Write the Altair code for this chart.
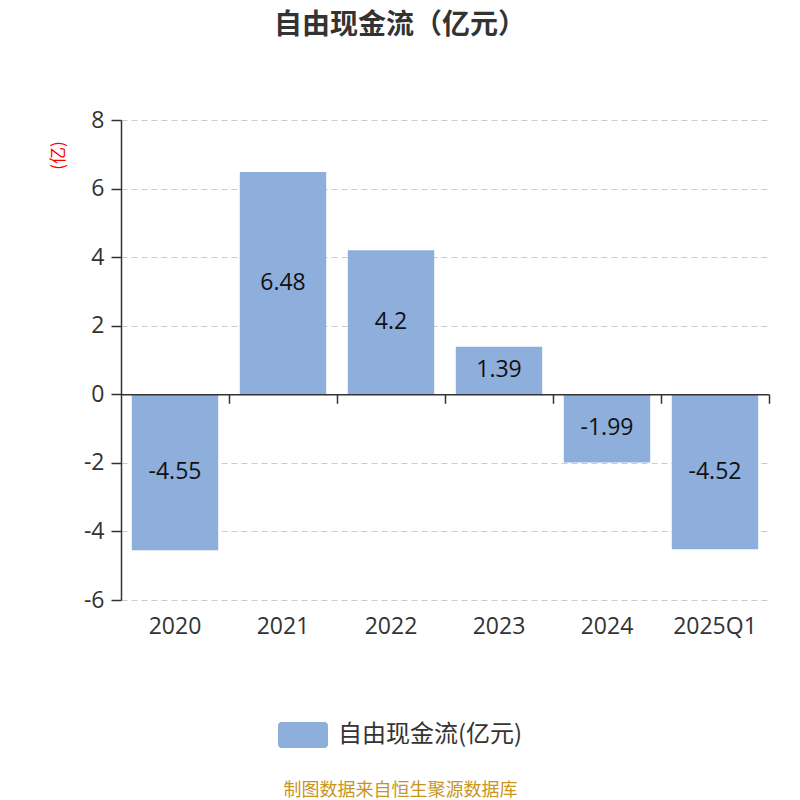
import altair as alt
import pandas as pd

categories = ["2020", "2021", "2022", "2023", "2024", "2025Q1"]
values = [-4.55, 6.48, 4.2, 1.39, -1.99, -4.52]
labels = ["-4.55", "6.48", "4.2", "1.39", "-1.99", "-4.52"]
series_name = "自由现金流(亿元)"
y_ticks = [-6, -4, -2, 0, 2, 4, 6, 8]

df = pd.DataFrame({
    "year": categories,
    "value": values,
    "label": labels,
    "series": [series_name] * len(categories),
})
df["mid"] = df["value"] / 2

FONT = "Noto Sans CJK SC"
NUMFONT = "Open Sans"
W, H = 648, 480
BAR = "#8eaedb"

xscale = alt.Scale(paddingInner=0.2, paddingOuter=0.1)
yscale = alt.Scale(domain=[-6, 8], nice=False)

yaxis = alt.Axis(
    values=y_ticks, grid=True, gridDash=[6, 4], gridColor="#cccccc", gridWidth=1.2,
    domainColor="#333333", domainWidth=1.5, tickColor="#333333", tickSize=10, tickWidth=1.5,
    labelFontSize=23, labelColor="#333333", labelPadding=7, labelFont=NUMFONT,
    labelExpr="replace(datum.label, '\u2212', '-')",
    title="(亿)", titleColor="red", titleFontSize=17, titleFontWeight="normal", titleFont=FONT,
    titleAngle=-90, titleX=-63, titleY=35, titleAlign="center", titleBaseline="middle",
)

x_bottom = alt.X(
    "year:N", sort=categories, scale=xscale,
    axis=alt.Axis(
        orient="bottom", domain=False, ticks=False, grid=False,
        labelFontSize=23, labelColor="#333333", labelPadding=15, labelFont=NUMFONT, labelAngle=0,
        title="制图数据来自恒生聚源数据库", titleColor="#c8951e", titleFontSize=18,
        titleFontWeight="normal", titleFont=FONT, titleX=279, titleY=190,
        titleAlign="center", titleBaseline="middle",
    ),
)

x_zero = alt.X(
    "year:N", sort=categories, scale=xscale,
    axis=alt.Axis(
        orient="bottom", offset=-205.7, labels=False, grid=False, zindex=1,
        domain=True, domainColor="#333333", domainWidth=1.5,
        ticks=True, tickOffset=54, tickSize=9, tickColor="#333333", tickWidth=1.5,
        title=None,
    ),
)

rounded = ("M-0.86,-0.52H0.86A0.14,0.14 0 0 1 1,-0.38V0.38A0.14,0.14 0 0 1 0.86,0.52"
           "H-0.86A0.14,0.14 0 0 1 -1,0.38V-0.38A0.14,0.14 0 0 1 -0.86,-0.52Z")

bars = alt.Chart(df).mark_bar().encode(
    x=x_bottom,
    y=alt.Y("value:Q", scale=yscale, axis=yaxis),
    color=alt.Color(
        "series:N", scale=alt.Scale(range=[BAR]),
        legend=alt.Legend(
            orient="none", legendX=157, legendY=590, title=None,
            symbolType=rounded, symbolSize=2500, symbolStrokeWidth=0, symbolOpacity=1,
            labelFontSize=24, labelColor="#333333", labelFont=FONT, labelOffset=10,
            labelLimit=400,
        ),
    ),
)

text = alt.Chart(df).mark_text(fontSize=23, color="#111111", font=NUMFONT).encode(
    x=x_zero,
    y=alt.Y("mid:Q", scale=yscale, axis=yaxis),
    text="label:N",
)

chart = alt.layer(bars, text).resolve_axis(x="independent").properties(
    width=W, height=H,
    autosize=alt.AutoSizeParams(type="none"),
    padding={"left": 113, "top": 112, "right": 23, "bottom": 200},
    title=alt.TitleParams(
        "自由现金流（亿元）", fontSize=28, fontWeight="bold", color="#333333", font=FONT,
        anchor="middle", dx=-45, offset=69, baseline="top",
    ),
).configure_view(stroke=None)

chart.save("out.html", embed_options={"renderer": "svg", "actions": False})
